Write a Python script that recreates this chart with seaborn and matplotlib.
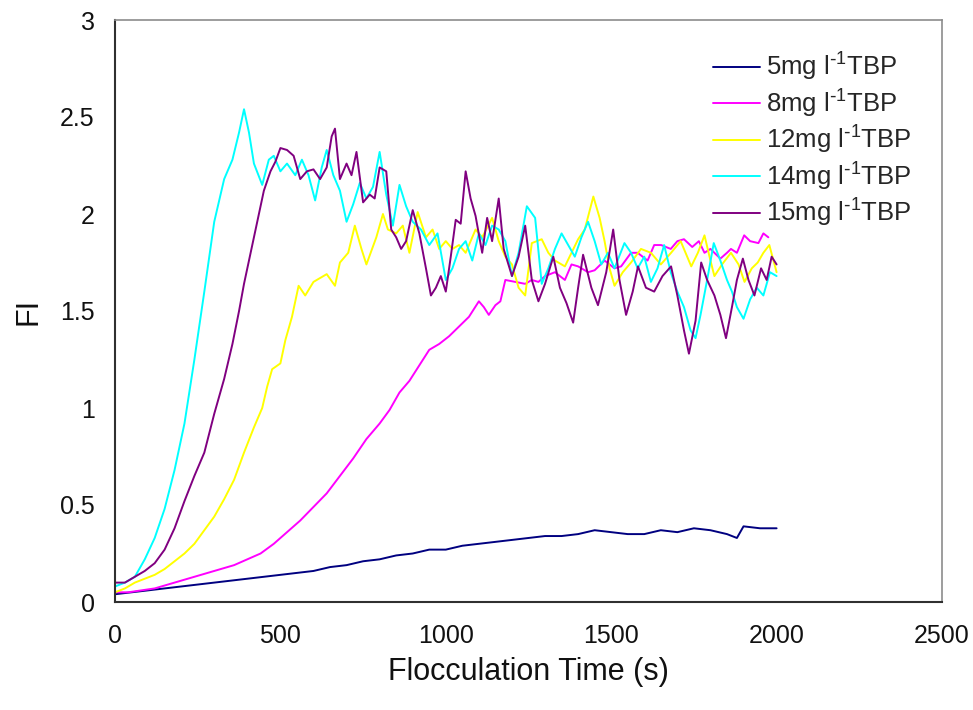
import numpy as np
import pandas as pd
import matplotlib
matplotlib.use("Agg")
import matplotlib.pyplot as plt
import seaborn as sns

# ---------------- data ----------------
t_5 = [0, 50, 100, 150, 200, 250, 300, 350, 400, 450, 500, 550, 600, 650, 700, 750, 800, 850, 900,
       950, 1000, 1050, 1100, 1150, 1200, 1250, 1300, 1350, 1400, 1450, 1500, 1550, 1600, 1650, 1700,
       1750, 1800, 1850, 1880, 1900, 1950, 2000]
fi_5 = [0.04, 0.05, 0.06, 0.07, 0.08, 0.09, 0.10, 0.11, 0.12, 0.13, 0.14, 0.15, 0.16, 0.18, 0.19,
        0.21, 0.22, 0.24, 0.25, 0.27, 0.27, 0.29, 0.30, 0.31, 0.32, 0.33, 0.34, 0.34, 0.35, 0.37,
        0.36, 0.35, 0.35, 0.37, 0.36, 0.38, 0.37, 0.35, 0.33, 0.39, 0.38, 0.38]

t_8 = [0, 40, 80, 120, 160, 200, 240, 280, 320, 360, 400, 440, 480, 520, 560, 600, 640, 680, 720,
       760, 800, 830, 860, 890, 920, 950, 980, 1010, 1040, 1070, 1100, 1115, 1130, 1150, 1165, 1180,
       1210, 1240, 1260, 1280, 1300, 1330, 1360, 1380, 1400, 1430, 1450, 1480, 1510, 1530, 1560,
       1580, 1610, 1630, 1651, 1680, 1700, 1720, 1745, 1765, 1782, 1800, 1830, 1850, 1862, 1880,
       1902, 1920, 1945, 1960, 1975]
fi_8 = [0.05, 0.05, 0.06, 0.07, 0.09, 0.11, 0.13, 0.15, 0.17, 0.19, 0.22, 0.25, 0.30, 0.36, 0.42,
        0.49, 0.56, 0.65, 0.74, 0.84, 0.92, 0.99, 1.08, 1.14, 1.22, 1.30, 1.33, 1.37, 1.42, 1.47,
        1.55, 1.52, 1.48, 1.53, 1.55, 1.66, 1.65, 1.64, 1.66, 1.65, 1.68, 1.70, 1.66, 1.74, 1.73,
        1.70, 1.71, 1.76, 1.72, 1.73, 1.80, 1.80, 1.76, 1.84, 1.84, 1.82, 1.86, 1.87, 1.83, 1.86,
        1.80, 1.82, 1.77, 1.80, 1.82, 1.80, 1.89, 1.86, 1.85, 1.90, 1.88]

t_12 = [0, 30, 60, 90, 120, 150, 180, 210, 240, 270, 300, 330, 360, 390, 420, 445, 460, 475, 500,
        515, 535, 555, 575, 600, 620, 640, 665, 680, 705, 725, 745, 760, 790, 810, 825, 850, 870,
        890, 915, 940, 960, 980, 1000, 1020, 1040, 1060, 1090, 1110, 1140, 1160, 1180, 1200, 1220,
        1240, 1260, 1290, 1310, 1330, 1360, 1380, 1400, 1420, 1446, 1465, 1480, 1495, 1510, 1535,
        1560, 1590, 1620, 1650, 1681, 1710, 1742, 1762, 1782, 1800, 1812, 1835, 1862, 1885, 1903,
        1925, 1943, 1960, 1978, 2000]
fi_12 = [0.05, 0.07, 0.10, 0.12, 0.14, 0.17, 0.21, 0.25, 0.30, 0.37, 0.44, 0.53, 0.63, 0.77, 0.90,
         1.00, 1.11, 1.20, 1.23, 1.35, 1.47, 1.63, 1.58, 1.65, 1.67, 1.69, 1.63, 1.75, 1.80, 1.94,
         1.82, 1.74, 1.88, 2.00, 1.92, 1.90, 1.94, 1.80, 2.01, 1.88, 1.92, 1.82, 1.86, 1.82, 1.84,
         1.80, 1.92, 1.88, 1.98, 1.86, 1.78, 1.74, 1.62, 1.58, 1.85, 1.87, 1.80, 1.76, 1.73, 1.80,
         1.87, 1.92, 2.09, 1.98, 1.86, 1.72, 1.63, 1.70, 1.75, 1.82, 1.80, 1.74, 1.80, 1.86, 1.73,
         1.80, 1.89, 1.76, 1.68, 1.74, 1.80, 1.74, 1.65, 1.72, 1.75, 1.80, 1.84, 1.70]

t_14 = [0, 30, 60, 90, 120, 150, 180, 210, 240, 270, 300, 330, 355, 375, 390, 405, 420, 445, 465,
        480, 500, 520, 545, 565, 585, 605, 625, 640, 660, 680, 700, 720, 740, 760, 780, 800, 820,
        840, 860, 880, 900, 925, 950, 975, 1000, 1020, 1040, 1060, 1080, 1100, 1120, 1140, 1160,
        1180, 1200, 1220, 1245, 1270, 1290, 1310, 1330, 1350, 1370, 1390, 1410, 1430, 1450, 1470,
        1490, 1510, 1540, 1560, 1580, 1600, 1620, 1640, 1660, 1680, 1700, 1720, 1740, 1755, 1770,
        1790, 1810, 1830, 1850, 1865, 1880, 1900, 1920, 1940, 1960, 1980, 2000]
fi_14 = [0.08, 0.10, 0.13, 0.22, 0.33, 0.48, 0.68, 0.92, 1.25, 1.60, 1.96, 2.18, 2.28, 2.42, 2.54,
         2.42, 2.26, 2.15, 2.28, 2.30, 2.22, 2.26, 2.20, 2.28, 2.20, 2.07, 2.24, 2.33, 2.20, 2.12,
         1.96, 2.05, 2.16, 2.08, 2.14, 2.32, 2.10, 1.94, 2.15, 2.04, 1.96, 1.92, 1.84, 1.90, 1.66,
         1.72, 1.82, 1.86, 1.76, 1.90, 1.84, 1.94, 1.92, 1.86, 1.68, 1.80, 2.04, 1.98, 1.64, 1.72,
         1.82, 1.90, 1.84, 1.78, 1.88, 1.96, 1.86, 1.74, 1.80, 1.72, 1.85, 1.80, 1.72, 1.78, 1.65,
         1.72, 1.84, 1.70, 1.60, 1.52, 1.40, 1.36, 1.48, 1.66, 1.85, 1.76, 1.66, 1.60, 1.52, 1.46,
         1.56, 1.62, 1.58, 1.70, 1.68]

t_15 = [0, 30, 60, 90, 120, 150, 180, 210, 240, 270, 300, 330, 355, 375, 390, 410, 430, 450, 470,
        485, 500, 520, 540, 560, 580, 600, 620, 640, 655, 665, 680, 700, 715, 730, 750, 770, 785,
        800, 820, 835, 850, 865, 880, 900, 920, 940, 955, 970, 985, 1000, 1015, 1030, 1045, 1060,
        1075, 1090, 1110, 1125, 1140, 1160, 1175, 1200, 1220, 1240, 1260, 1280, 1300, 1325, 1345,
        1365, 1385, 1400, 1415, 1440, 1460, 1485, 1506, 1525, 1545, 1565, 1581, 1605, 1630, 1655,
        1681, 1700, 1720, 1735, 1755, 1772, 1790, 1812, 1830, 1847, 1865, 1880, 1898, 1915, 1933,
        1953, 1970, 1985, 2000]
fi_15 = [0.10, 0.10, 0.13, 0.16, 0.20, 0.27, 0.38, 0.52, 0.65, 0.77, 0.97, 1.15, 1.33, 1.50, 1.64,
         1.80, 1.96, 2.12, 2.22, 2.27, 2.34, 2.33, 2.30, 2.18, 2.22, 2.23, 2.18, 2.24, 2.40, 2.44,
         2.18, 2.26, 2.20, 2.32, 2.06, 2.10, 2.08, 2.24, 2.22, 1.92, 1.88, 1.82, 1.86, 2.02, 1.90,
         1.72, 1.58, 1.62, 1.68, 1.60, 1.78, 1.97, 1.95, 2.22, 2.08, 1.99, 1.80, 1.98, 1.86, 2.08,
         1.82, 1.68, 1.78, 1.94, 1.66, 1.55, 1.64, 1.78, 1.62, 1.54, 1.44, 1.62, 1.79, 1.62, 1.53,
         1.70, 1.92, 1.66, 1.48, 1.60, 1.73, 1.62, 1.60, 1.68, 1.73, 1.58, 1.40, 1.28, 1.45, 1.75,
         1.66, 1.58, 1.48, 1.36, 1.52, 1.66, 1.77, 1.66, 1.58, 1.72, 1.66, 1.78, 1.74]

series_labels = [r"5mg l$^{\text{-}1}$TBP", r"8mg l$^{\text{-}1}$TBP", r"12mg l$^{\text{-}1}$TBP",
                 r"14mg l$^{\text{-}1}$TBP", r"15mg l$^{\text{-}1}$TBP"]
series_colors = ["#000080", "#FF00FF", "#FFFF00", "#00FFFF", "#800080"]
x_ticks = [0, 500, 1000, 1500, 2000, 2500]
y_ticks = [0, 0.5, 1, 1.5, 2, 2.5, 3]
y_tick_labels = ["0", "0.5", "1", "1.5", "2", "2.5", "3"]

# ---------------- build long-form table ----------------
times = [t_5, t_8, t_12, t_14, t_15]
values = [fi_5, fi_8, fi_12, fi_14, fi_15]
frames = []
for lab, tt, vv in zip(series_labels, times, values):
    frames.append(pd.DataFrame({"time": tt, "FI": vv, "series": lab}))
df = pd.concat(frames, ignore_index=True)

# ---------------- style ----------------
sns.set_style("white")
plt.rcParams["font.family"] = ["Liberation Sans", "DejaVu Sans"]
plt.rcParams["mathtext.default"] = "regular"

fig = plt.figure(figsize=(9.73, 7.10), dpi=100)
ax = fig.add_axes([115 / 973, 1 - 602 / 710, (942 - 115) / 973, (602 - 20) / 710])

sns.lineplot(data=df, x="time", y="FI", hue="series", hue_order=series_labels,
             palette=series_colors, estimator=None, sort=False, linewidth=1.4, ax=ax)

ax.set_xlim(0, 2500)
ax.set_ylim(0, 3)
ax.set_xticks(x_ticks)
ax.set_xticklabels([str(v) for v in x_ticks])
ax.set_yticks(y_ticks)
ax.set_yticklabels(y_tick_labels)
ax.tick_params(axis="both", which="major", direction="out", length=6.5, width=1.3,
               color="#303030", labelsize=18, labelcolor="#111111")
ax.tick_params(axis="x", pad=9)
ax.tick_params(axis="y", pad=8)

for side in ["left", "bottom"]:
    ax.spines[side].set_color("#303030")
    ax.spines[side].set_linewidth(1.5)
for side in ["right", "top"]:
    ax.spines[side].set_color("#8c8c8c")
    ax.spines[side].set_linewidth(1.2)
    ax.spines[side].set_visible(True)

ax.set_xlabel("Flocculation Time (s)", fontsize=22, color="#111111", labelpad=7)
ax.set_ylabel("FI", fontsize=22, color="#111111", labelpad=12)

leg = ax.legend(loc="upper left", bbox_to_anchor=(700 / 973, 1 - 38 / 710),
                bbox_transform=fig.transFigure, frameon=False, fontsize=18.5,
                handlelength=1.85, handletextpad=0.2, labelspacing=0.17, borderpad=0)
for line in leg.get_lines():
    line.set_linewidth(1.4)

fig.savefig("out.png", dpi=100)
